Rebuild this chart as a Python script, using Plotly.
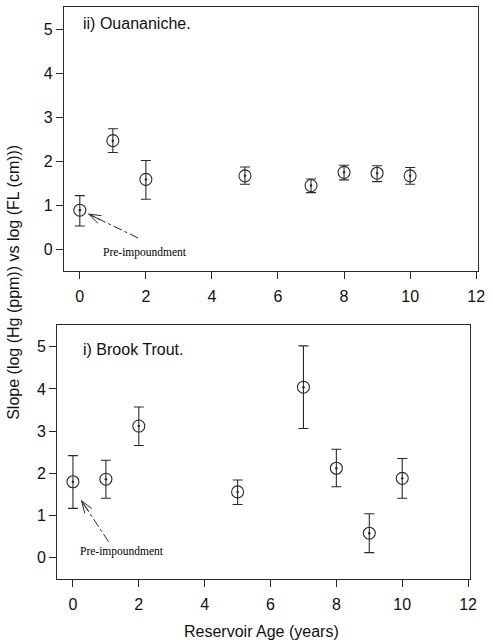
import math
import plotly.graph_objects as go

# ---------------- data ----------------
ages_ouananiche = [0, 1, 2, 5, 7, 8, 9, 10]
slope_ouananiche = [0.89, 2.47, 1.59, 1.67, 1.45, 1.75, 1.73, 1.67]
upper_ouananiche = [1.22, 2.74, 2.02, 1.87, 1.60, 1.91, 1.90, 1.86]
lower_ouananiche = [0.53, 2.20, 1.14, 1.48, 1.29, 1.58, 1.54, 1.48]

ages_trout = [0, 1, 2, 5, 7, 8, 9, 10]
slope_trout = [1.80, 1.86, 3.12, 1.56, 4.04, 2.12, 0.58, 1.88]
upper_trout = [2.42, 2.31, 3.57, 1.84, 5.02, 2.57, 1.04, 2.35]
lower_trout = [1.17, 1.41, 2.66, 1.26, 3.06, 1.68, 0.12, 1.41]

x_ticks = [0, 2, 4, 6, 8, 10, 12]
y_ticks = [0, 1, 2, 3, 4, 5]

title_ouananiche = "ii) Ouananiche."
title_trout = "i) Brook Trout."
note_text = "Pre-impoundment"
x_title = "Reservoir Age (years)"
y_title = "Slope (log (Hg (ppm)) vs log (FL (cm)))"

# arrow tip/tail (data coords) for the "Pre-impoundment" notes
arrow_top = dict(tip=(0.27, 0.80), tail=(1.76, 0.26))
arrow_bot = dict(tip=(0.26, 1.35), tail=(1.08, 0.38))

# ---------------- styling ----------------
W, H = 493, 640
INK = "#2a2a2a"
FONT = "Liberation Sans, Arial, sans-serif"
SERIF = "Liberation Serif, Times New Roman, serif"

x_range = [-0.48, 12.05]
y_range_top = [-0.49, 5.51]
y_range_bot = [-0.50, 5.51]

dom_top_x = [0.1316, 0.9832]
dom_top_y = [0.5767, 0.9892]
dom_bot_x = [0.1176, 0.9665]
dom_bot_y = [0.0956, 0.4919]

fig = go.Figure()


def add_series(xs, ys, up, lo, xa, ya):
    fig.add_trace(go.Scatter(
        x=xs, y=ys, mode="markers", xaxis=xa, yaxis=ya,
        marker=dict(symbol="circle-open", size=12, color=INK,
                    line=dict(width=1.1, color=INK)),
        error_y=dict(type="data", symmetric=False,
                     array=[u - y for u, y in zip(up, ys)],
                     arrayminus=[y - l for l, y in zip(lo, ys)],
                     color=INK, thickness=1.1, width=5),
        showlegend=False, hoverinfo="skip"))
    # small centre dot of each symbol
    fig.add_trace(go.Scatter(
        x=xs, y=ys, mode="markers", xaxis=xa, yaxis=ya,
        marker=dict(symbol="circle", size=2.5, color=INK),
        showlegend=False, hoverinfo="skip"))


add_series(ages_ouananiche, slope_ouananiche, upper_ouananiche, lower_ouananiche, "x", "y")
add_series(ages_trout, slope_trout, upper_trout, lower_trout, "x2", "y2")

axis_common = dict(showgrid=False, zeroline=False, showline=True, mirror=True,
                   linecolor=INK, linewidth=1, ticks="outside", tickcolor=INK,
                   tickwidth=1, tickfont=dict(family=FONT, size=16, color="#111"))

fig.update_layout(
    width=W, height=H, margin=dict(l=0, r=0, t=0, b=0),
    paper_bgcolor="white", plot_bgcolor="white",
    xaxis=dict(domain=dom_top_x, range=x_range, tickvals=x_ticks, anchor="y",
               ticklen=7, ticklabelstandoff=4, **axis_common),
    yaxis=dict(domain=dom_top_y, range=y_range_top, tickvals=y_ticks, anchor="x",
               ticklen=7, ticklabelstandoff=0, **axis_common),
    xaxis2=dict(domain=dom_bot_x, range=x_range, tickvals=x_ticks, anchor="y2",
                ticklen=7, ticklabelstandoff=4, **axis_common),
    yaxis2=dict(domain=dom_bot_y, range=y_range_bot, tickvals=y_ticks, anchor="x2",
                ticklen=7, ticklabelstandoff=0, **axis_common),
)

annotations = [
    dict(text=title_ouananiche, x=82 / W, y=1 - 24 / H, xref="paper", yref="paper",
         xanchor="left", yanchor="middle", showarrow=False,
         font=dict(family=FONT, size=16, color="#111")),
    dict(text=title_trout, x=82 / W, y=1 - 349 / H, xref="paper", yref="paper",
         xanchor="left", yanchor="middle", showarrow=False,
         font=dict(family=FONT, size=16, color="#111")),
    dict(text=x_title, x=265 / W, y=1 - 631 / H, xref="paper", yref="paper",
         xanchor="center", yanchor="middle", showarrow=False,
         font=dict(family=FONT, size=16, color="#111")),
    dict(text=y_title, x=13 / W, y=1 - 282 / H, xref="paper", yref="paper",
         xanchor="center", yanchor="middle", showarrow=False, textangle=-90,
         font=dict(family=FONT, size=16, color="#111")),
    dict(text=note_text, x=102 / W, y=1 - 252 / H, xref="paper", yref="paper",
         xanchor="left", yanchor="middle", showarrow=False,
         font=dict(family=SERIF, size=11.5, color="#000")),
    dict(text=note_text, x=79 / W, y=1 - 551 / H, xref="paper", yref="paper",
         xanchor="left", yanchor="middle", showarrow=False,
         font=dict(family=SERIF, size=11.5, color="#000")),
]
fig.update_layout(annotations=annotations)


def add_arrow(arrow, xref, yref, xdom, ydom, xr, yr):
    # pixel scale of the axes, to build an open "V" arrow head
    sx = (xdom[1] - xdom[0]) * W / (xr[1] - xr[0])
    sy = (ydom[1] - ydom[0]) * H / (yr[1] - yr[0])
    (tx, ty), (bx, by) = arrow["tip"], arrow["tail"]
    dx, dy = (bx - tx) * sx, (by - ty) * sy
    ang = math.atan2(dy, dx)
    shapes = [dict(type="line", xref=xref, yref=yref, x0=bx, y0=by, x1=tx, y1=ty,
                   line=dict(color=INK, width=1, dash="dashdot"))]
    L = 13
    for da in (-0.33, 0.0, 0.33):
        a = ang + da
        shapes.append(dict(type="line", xref=xref, yref=yref, x0=tx, y0=ty,
                           x1=tx + L * math.cos(a) / sx, y1=ty + L * math.sin(a) / sy,
                           line=dict(color=INK, width=1)))
    return shapes


shapes = add_arrow(arrow_top, "x", "y", dom_top_x, dom_top_y, x_range, y_range_top)
shapes += add_arrow(arrow_bot, "x2", "y2", dom_bot_x, dom_bot_y, x_range, y_range_bot)
fig.update_layout(shapes=shapes)

fig.write_html(
    "out.html",
    config={"displayModeBar": False},
    post_script="document.body.style.margin='0';document.body.style.overflow='hidden';",
)
